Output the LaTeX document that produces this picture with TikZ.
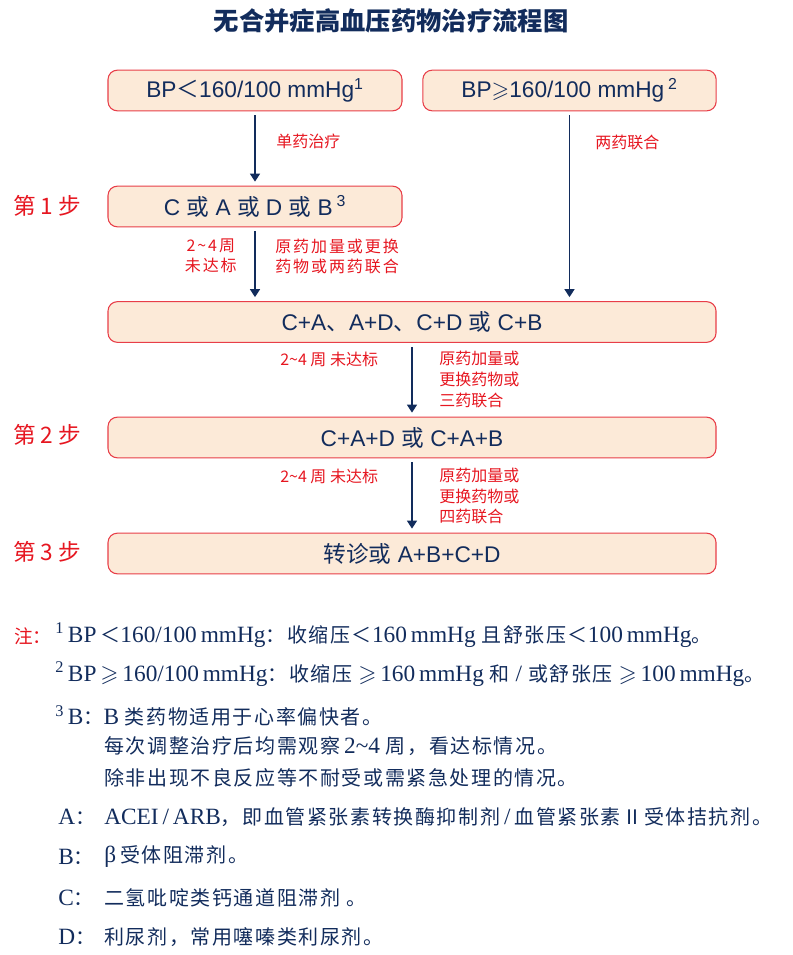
\documentclass[tikz,border=0pt]{standalone}
\usepackage{fontspec}
\usepackage{amssymb}
\setmainfont{Liberation Sans}
\newfontfamily\cjk{Noto Sans CJK SC}
\newfontfamily\cjkwide[LetterSpace=12]{Noto Sans CJK SC}
\newfontfamily\notecjk[LetterSpace=8]{Noto Sans CJK SC}
\newfontfamily\noteserif{Liberation Serif}
\usetikzlibrary{arrows.meta,positioning}

\definecolor{navy}{RGB}{18,44,92}
\definecolor{boxred}{RGB}{232,62,72}
\definecolor{boxfill}{RGB}{252,234,216}
\definecolor{labred}{RGB}{230,22,32}

\newcommand{\zh}[1]{{\notecjk\fontsize{15}{18}\selectfont #1}}

\begin{document}
\begin{tikzpicture}[x=0.75pt,y=-0.75pt,
  box/.style={draw=boxred, fill=boxfill, rounded corners=7pt, line width=0.8pt, text=navy,
    minimum height=30.5pt, inner sep=0pt, font=\fontsize{17}{20}\selectfont},
  lbl/.style={text=labred, inner sep=0pt, align=left, font=\cjk\fontsize{12}{15.4}\selectfont},
  widelbl/.style={lbl, font=\cjkwide\fontsize{12}{15}\selectfont},
  steplbl/.style={text=labred, inner sep=0pt, anchor=west, font=\cjk\fontsize{17}{20}\selectfont},
  flow/.style={navy, line width=1.1pt, -{Triangle[length=6pt,width=7.5pt]}, shorten <=3pt, shorten >=3pt},
  note/.style={text=navy, inner sep=0pt, anchor=west, font=\noteserif\fontsize{17.5}{18}\selectfont}]
  \useasboundingbox (0,0) rectangle (792,955);

  % title
  \node[text=navy, font=\cjk\bfseries\fontsize{19}{22}\selectfont] (title) at (391,21) {无合并症高血压药物治疗流程图};

  % boxes
  \node[box, minimum width=220.5pt] (low) at (255,90.5) {BP{\cjk ＜}160/100 mmHg\textsuperscript{1}};
  \node[box, minimum width=220pt] (high) at (569.5,90.5) {BP{$\geqslant$}160/100 mmHg\,\textsuperscript{2}};
  \node[box, minimum width=220.5pt] (mono) at (255,206.5) {C {\cjk 或} A {\cjk 或} D {\cjk 或} B\,\textsuperscript{3}};
  \node[box, minimum width=456pt] (dual) at (412,322) {C+A{\cjk 、}A+D{\cjk 、}C+D {\cjk 或} C+B};
  \node[box, minimum width=456pt] (triple) at (412,437.5) {C+A+D {\cjk 或} C+A+B};
  \node[box, minimum width=456pt] (quad) at (412,553.5) {{\cjk 转诊或} A+B+C+D};

  % step labels
  \node[steplbl] (s1) at (13,206) {第 1 步};
  \node[steplbl] (s2) at (13,435) {第 2 步};
  \node[steplbl] (s3) at (13,552) {第 3 步};

  % arrows
  \draw[flow] (low) -- (mono);
  \draw[flow] (high.south) -- (high.south |- dual.north);
  \draw[flow] (mono.south) -- (mono.south |- dual.north);
  \draw[flow] (dual) -- (triple);
  \draw[flow] (triple) -- (quad);

  % arrow labels
  \node[lbl, anchor=west] (l1) at (276,141) {单药治疗};
  \node[lbl, anchor=west] (l2) at (595,142) {两药联合};
  \node[widelbl, anchor=east, align=center] (l3) at (237,256) {2\textasciitilde4周\\未达标};
  \node[widelbl, anchor=west] (l4) at (275,256) {原药加量或更换\\药物或两药联合};
  \node[lbl, anchor=west] (l5) at (280,359) {2\textasciitilde4 周 未达标};
  \node[lbl, anchor=west] (l6) at (439,379.5) {原药加量或\\更换药物或\\三药联合};
  \node[lbl, anchor=west] (l7) at (280,476) {2\textasciitilde4 周 未达标};
  \node[lbl, anchor=west] (l8) at (439,496) {原药加量或\\更换药物或\\四药联合};

  % notes
  \node[text=labred, inner sep=0pt, anchor=west, font=\cjk\fontsize{14}{16}\selectfont] (zhu) at (14,636) {注：};
  \node[note] (n1) at (55,635) {\textsuperscript{1}\,BP\,\zh{＜}160/100\,mmHg\zh{：收缩压＜}160\,mmHg \zh{且舒张压＜}100\,mmHg\zh{。}};
  \node[note] (n2) at (55,674) {\textsuperscript{2}\,BP\,$\geqslant$\,160/100\,mmHg\zh{：收缩压} $\geqslant$\,160\,mmHg \zh{和} / \zh{或舒张压} $\geqslant$\,100\,mmHg\zh{。}};
  \node[note] (n3) at (55,716) {\textsuperscript{3}\,B\zh{：}B \zh{类药物适用于心率偏快者。}};
  \node[note] (n4) at (104,746) {\zh{每次调整治疗后均需观察}\,2\textasciitilde4 \zh{周，看达标情况。}};
  \node[note] (n5) at (104,778) {\zh{除非出现不良反应等不耐受或需紧急处理的情况。}};
  \node[note] (ka) at (58,817) {A\zh{：}};
  \node[note] (na) at (104,817) {ACEI\,/\,ARB\zh{，即血管紧张素转换酶抑制剂}\,/\,\zh{血管紧张素Ⅱ受体拮抗剂。}};
  \node[note] (kb) at (58,857) {B\zh{：}};
  \node[note] (nb) at (104,857) {β\,\zh{受体阻滞剂。}};
  \node[note] (kc) at (58,898) {C\zh{：}};
  \node[note] (nc) at (104,898) {\zh{二氢吡啶类钙通道阻滞剂 。}};
  \node[note] (kd) at (58,937) {D\zh{：}};
  \node[note] (nd) at (104,937) {\zh{利尿剂，常用噻嗪类利尿剂。}};
\end{tikzpicture}
\end{document}
